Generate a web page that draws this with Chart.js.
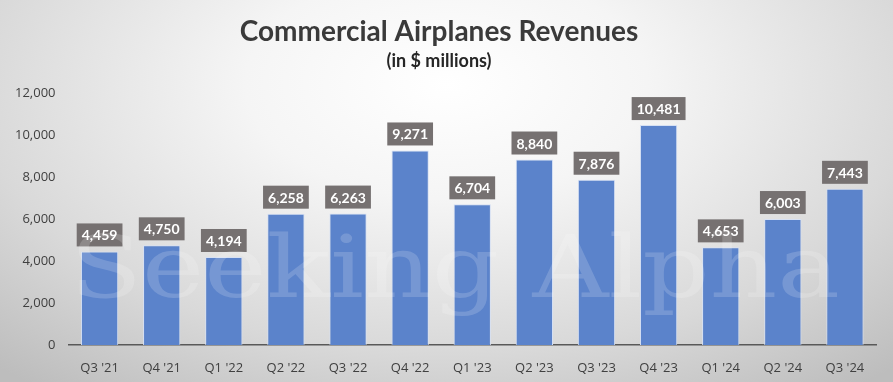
<!DOCTYPE html>
<html><head><meta charset="utf-8">
<script src="https://cdn.jsdelivr.net/npm/chart.js@4/dist/chart.umd.min.js"></script>
<style>
html,body{margin:0;padding:0;}
body{width:893px;height:382px;overflow:hidden;background:radial-gradient(ellipse 75% 100% at 50% 22%, #ffffff 0%, #f5f5f5 30%, #d9d9d9 70%, #bdbdbd 100%);}
#wrap{position:relative;width:893px;height:382px;}
</style></head>
<body><div id="wrap"><canvas id="c" width="893" height="382"></canvas></div>
<script>
const categories = ["Q3 '21","Q4 '21","Q1 '22","Q2 '22","Q3 '22","Q4 '22","Q1 '23","Q2 '23","Q3 '23","Q4 '23","Q1 '24","Q2 '24","Q3 '24"];
const revenues = [4459,4750,4194,6258,6263,9271,6704,8840,7876,10481,4653,6003,7443];
const yMin = 0, yMax = 12000, yStep = 2000;
const titleText = "Commercial Airplanes Revenues";
const subtitleText = "(in $ millions)";
const watermarkText = "Seeking Alpha";

const fmt = v => Number(v).toLocaleString('en-US');

const labelPlugin = {
  id: 'barLabels',
  afterDatasetsDraw(chart) {
    const ctx = chart.ctx;
    const meta = chart.getDatasetMeta(0);
    ctx.save();
    ctx.font = 'bold 14px Lato';
    ctx.textAlign = 'center';
    ctx.textBaseline = 'middle';
    meta.data.forEach((bar, i) => {
      const t = fmt(chart.data.datasets[0].data[i]);
      const w = ctx.measureText(t).width + 10;
      const h = 23;
      const bottom = bar.y - 5;
      ctx.fillStyle = '#767171';
      ctx.fillRect(bar.x - w/2, bottom - h, w, h);
      ctx.fillStyle = '#ffffff';
      ctx.fillText(t, bar.x, bottom - h/2 + 1);
    });
    ctx.restore();
  }
};

const watermarkPlugin = {
  id: 'watermark',
  afterDraw(chart) {
    const ctx = chart.ctx;
    ctx.save();
    ctx.globalAlpha = 0.17;
    ctx.fillStyle = '#ffffff';
    ctx.font = '86px "DejaVu Serif"';
    ctx.textBaseline = 'alphabetic';
    const w = ctx.measureText(watermarkText).width;
    const target = 770;
    ctx.translate(70, 297);
    ctx.scale(target / w, 1);
    ctx.fillText(watermarkText, 0, 0);
    ctx.restore();
  }
};

new Chart(document.getElementById('c'), {
  type: 'bar',
  data: {
    labels: categories,
    datasets: [{
      data: revenues,
      backgroundColor: '#5B83CB',
      borderColor: '#D6E0F3',
      borderWidth: 1,
      categoryPercentage: 1,
      barPercentage: 0.6
    }]
  },
  options: {
    responsive: false,
    devicePixelRatio: 1,
    animation: false,
    layout: { padding: { left: 2, right: 17, bottom: 0, top: 0 } },
    plugins: {
      legend: { display: false },
      tooltip: { enabled: false },
      title: { display: true, text: titleText, color: '#3a3a3a',
        font: { family: 'Lato', size: 28, weight: 'bold' }, padding: { top: 15, bottom: 2 } },
      subtitle: { display: true, text: subtitleText, color: '#262626',
        font: { family: 'Lato', size: 18, weight: 'bold' }, padding: { top: 0, bottom: 21 } }
    },
    scales: {
      y: {
        min: yMin, max: yMax,
        ticks: { stepSize: yStep, callback: v => fmt(v), color: '#404040', padding: 13,
          font: { family: 'Open Sans', size: 13 } },
        grid: { display: false, drawTicks: false },
        border: { display: false }
      },
      x: {
        ticks: { color: '#404040', font: { family: 'Open Sans', size: 13 }, padding: 15, maxRotation: 0 },
        grid: { display: false, drawTicks: false },
        border: { display: true, color: '#595959', width: 1.5 },
        afterFit(scale) { scale.height = 37; }
      }
    }
  },
  plugins: [labelPlugin, watermarkPlugin]
});
</script>
</body></html>
